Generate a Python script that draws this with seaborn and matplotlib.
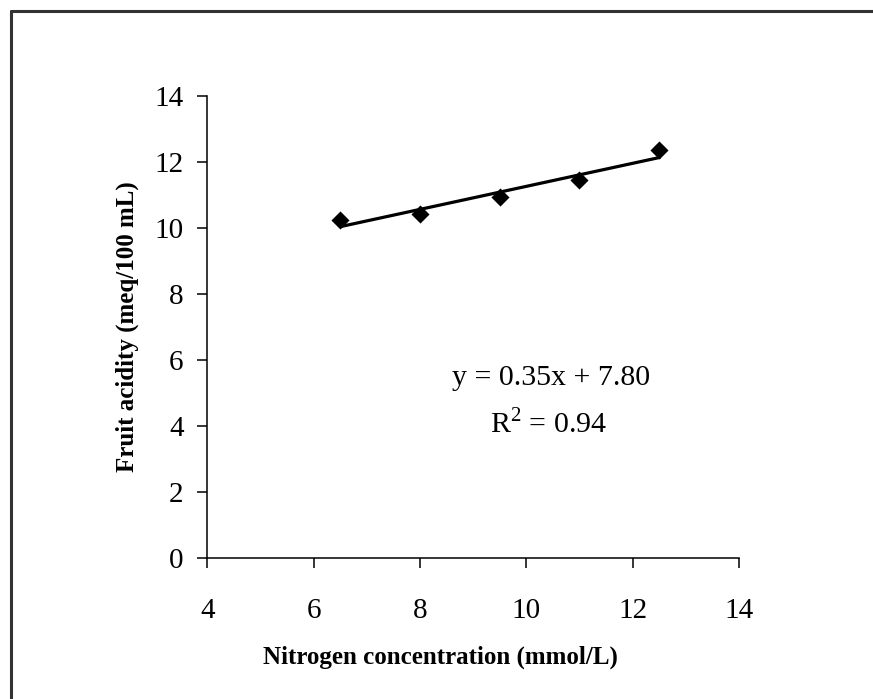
import matplotlib
matplotlib.use("Agg")
import matplotlib.pyplot as plt
import seaborn as sns
import pandas as pd
from matplotlib.lines import Line2D

# values
nitrogen = [6.5, 8.0, 9.5, 11.0, 12.5]
acidity = [10.25, 10.42, 10.95, 11.44, 12.36]
x_ticks = [4, 6, 8, 10, 12, 14]
y_ticks = [0, 2, 4, 6, 8, 10, 12, 14]
equation = "y = 0.35x + 7.80"
r_squared = "R$^2$ = 0.94"

df = pd.DataFrame({"Nitrogen": nitrogen, "Acidity": acidity})

sns.set_style("white")
plt.rcParams["font.family"] = ["Liberation Serif", "DejaVu Serif"]
plt.rcParams["mathtext.fontset"] = "custom"
plt.rcParams["mathtext.rm"] = "Liberation Serif"
plt.rcParams["text.color"] = "black"
plt.rcParams["axes.labelcolor"] = "black"

fig = plt.figure(figsize=(8.73, 6.99), dpi=100)
ax = fig.add_axes([0.2375, 0.2024, 0.609, 0.6603])

sns.regplot(x="Nitrogen", y="Acidity", data=df, ax=ax, ci=None, marker="D",
            color="black",
            scatter_kws={"s": 85, "linewidths": 0, "alpha": 1, "zorder": 3},
            line_kws={"linewidth": 2.3, "zorder": 2})

ax.set_xlim(4, 14)
ax.set_ylim(0, 14)
ax.set_xticks(x_ticks)
ax.set_yticks(y_ticks)
ax.tick_params(axis="both", direction="out", length=7, width=1.1,
               labelsize=21, colors="black", bottom=True, left=True)
ax.tick_params(axis="x", pad=22)
ax.tick_params(axis="y", pad=10)

for side in ["top", "right"]:
    ax.spines[side].set_visible(False)
for side in ["left", "bottom"]:
    ax.spines[side].set_color("black")
    ax.spines[side].set_linewidth(1.1)

ax.set_xlabel("Nitrogen concentration (mmol/L)", fontsize=18,
              fontweight="bold")
ax.set_ylabel("Fruit acidity (meq/100 mL)", fontsize=18,
              fontweight="bold")
ax.xaxis.set_label_coords(0.4377, -0.19)
ax.yaxis.set_label_coords(-0.128, 0.5)

ax.text(10.46, 5.45, equation, fontsize=21.5, ha="center", va="center")
ax.text(10.42, 4.05, r_squared, fontsize=21.5, ha="center", va="center")

# frame lines at the top and left of the figure
fig.add_artist(Line2D([0.0126, 1.0], [0.984, 0.984], transform=fig.transFigure,
                      color="#333333", linewidth=2.2))
fig.add_artist(Line2D([0.0126, 0.0126], [0.0, 0.984], transform=fig.transFigure,
                      color="#333333", linewidth=2.2))

fig.savefig("out.png", dpi=100, facecolor="white")
